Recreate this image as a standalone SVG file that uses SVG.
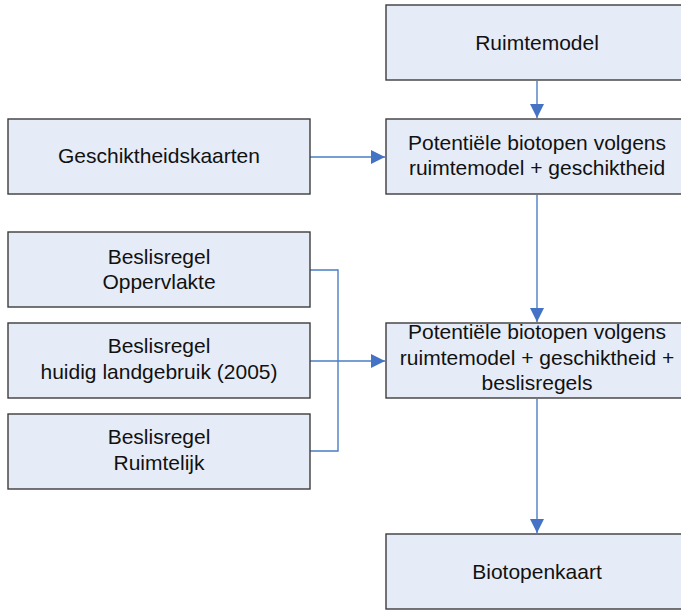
<svg xmlns="http://www.w3.org/2000/svg" width="681" height="610" viewBox="0 0 681 610">
  <style>
    .box { fill: #E6ECF7; stroke: #3C3C3C; stroke-width: 1.4; }
    .lbl { font-family: "Liberation Sans", Arial, sans-serif; font-size: 21px; fill: #111; text-anchor: middle; }
    .wire { fill: none; stroke: #4A7EC4; stroke-width: 1.4; }
  </style>
  <defs>
    <marker id="arrow" markerWidth="14" markerHeight="14" refX="14" refY="7" orient="auto" markerUnits="userSpaceOnUse">
      <path d="M0,0 L14,7 L0,14 Z" fill="#4472C4"/>
    </marker>
  </defs>
  <rect width="681" height="610" fill="#FFFFFF"/>

  <g id="connectors">
    <line class="wire" x1="537" y1="81" x2="537" y2="118" marker-end="url(#arrow)"/>
    <line class="wire" x1="310" y1="157" x2="385" y2="157" marker-end="url(#arrow)"/>
    <line class="wire" x1="537" y1="195" x2="537" y2="322" marker-end="url(#arrow)"/>
    <polyline class="wire" points="310,270 338,270 338,451 310,451"/>
    <line class="wire" x1="310" y1="361" x2="385" y2="361" marker-end="url(#arrow)"/>
    <line class="wire" x1="537" y1="399" x2="537" y2="533" marker-end="url(#arrow)"/>
  </g>

  <g id="ruimtemodel">
    <rect class="box" x="386" y="5" width="310" height="75"/>
    <text class="lbl" x="537" y="50">Ruimtemodel</text>
  </g>

  <g id="geschiktheidskaarten">
    <rect class="box" x="8" y="119" width="302" height="75"/>
    <text class="lbl" x="159" y="163">Geschiktheidskaarten</text>
  </g>

  <g id="potentieel-1">
    <rect class="box" x="386" y="119" width="310" height="75"/>
    <text class="lbl" x="537" y="150">Potentiële biotopen volgens</text>
    <text class="lbl" x="537" y="175">ruimtemodel + geschiktheid</text>
  </g>

  <g id="beslisregel-oppervlakte">
    <rect class="box" x="8" y="232" width="302" height="75"/>
    <text class="lbl" x="159" y="264">Beslisregel</text>
    <text class="lbl" x="159" y="289">Oppervlakte</text>
  </g>

  <g id="beslisregel-landgebruik">
    <rect class="box" x="8" y="323" width="302" height="75"/>
    <text class="lbl" x="159" y="353">Beslisregel</text>
    <text class="lbl" x="159" y="379">huidig landgebruik (2005)</text>
  </g>

  <g id="beslisregel-ruimtelijk">
    <rect class="box" x="8" y="414" width="302" height="75"/>
    <text class="lbl" x="159" y="444">Beslisregel</text>
    <text class="lbl" x="159" y="470">Ruimtelijk</text>
  </g>

  <g id="potentieel-2">
    <rect class="box" x="386" y="323" width="310" height="75"/>
    <text class="lbl" x="537" y="339">Potentiële biotopen volgens</text>
    <text class="lbl" x="537" y="365">ruimtemodel + geschiktheid +</text>
    <text class="lbl" x="537" y="390">beslisregels</text>
  </g>

  <g id="biotopenkaart">
    <rect class="box" x="386" y="534" width="310" height="75"/>
    <text class="lbl" x="537" y="579">Biotopenkaart</text>
  </g>
</svg>
